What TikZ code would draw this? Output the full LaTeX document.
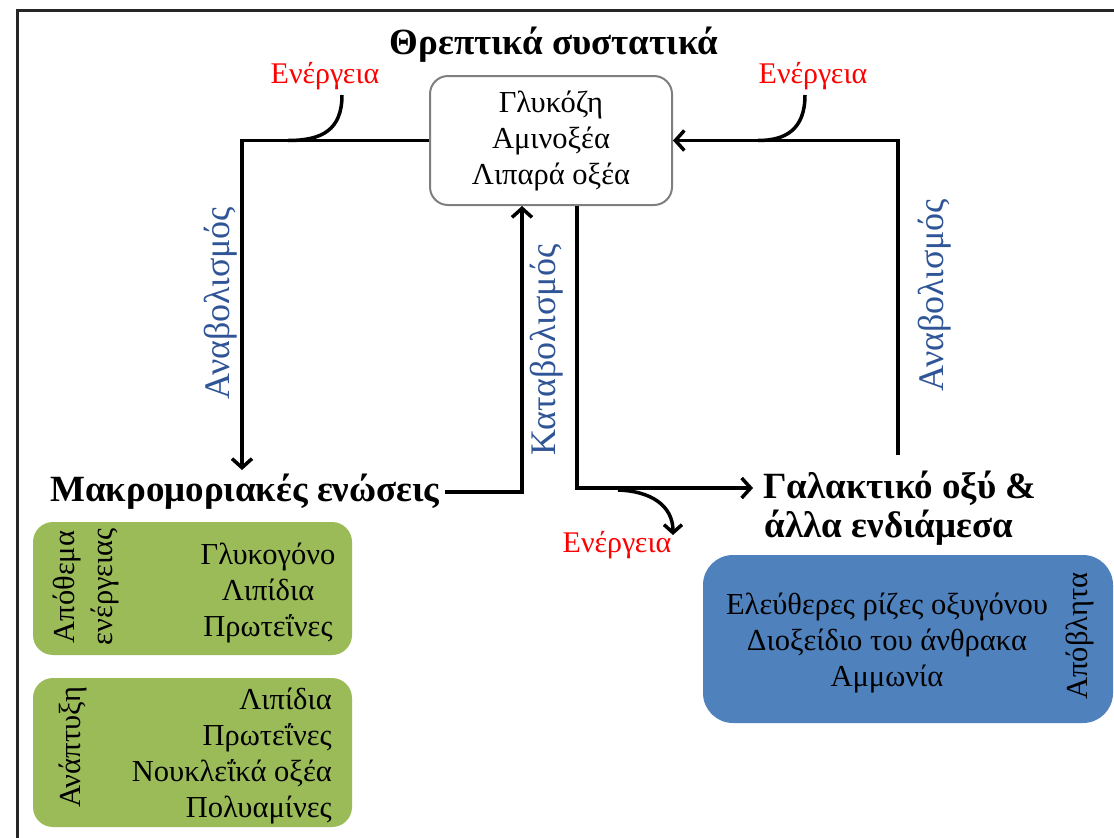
\documentclass[tikz,border=0pt]{standalone}
\usepackage{fontspec}
\setmainfont{Liberation Serif}
\usetikzlibrary{arrows.meta}
\definecolor{anablue}{RGB}{47,85,151}
\definecolor{boxgreen}{RGB}{155,187,89}
\definecolor{boxblue}{RGB}{79,129,189}
\definecolor{boxgray}{RGB}{127,127,127}
\tikzset{
 txt/.style={font=\fontsize{30.5}{36}\selectfont, inner sep=0pt, align=center},
 head/.style={font=\fontsize{37}{42}\selectfont\bfseries, inner sep=0pt, align=center},
 energy/.style={font=\fontsize{30}{34}\selectfont, text=red, inner sep=0pt},
 proc/.style={font=\fontsize{36}{40}\selectfont, text=anablue, rotate=90, inner sep=0pt},
 flow/.style={line width=3.5pt, -{Straight Barb[length=9pt,width=20pt]}},
 eline/.style={line width=3.5pt},
 eflow/.style={line width=3.5pt, -{Straight Barb[length=8pt,width=18pt]}},
}
\begin{document}
\begin{tikzpicture}[x=1pt,y=-1pt]
\useasboundingbox (0,0) rectangle (1114,838);
\clip (0,0) rectangle (1114,838);
\draw[line width=3pt, black!85] (17,850) -- (17,10) -- (1130,10);

% central box and title
\node[head] (title) at (554,45) {Θρεπτικά συστατικά};
\node[txt, draw=boxgray, line width=2pt, rounded corners=18pt,
      minimum width=242pt, minimum height=129pt] (nut) at (551,140.5)
      {Γλυκόζη\\Αμινοξέα\\Λιπαρά οξέα};

% energy labels
\node[energy] (eL) at (325,76) {Ενέργεια};
\node[energy] (eR) at (813,76) {Ενέργεια};
\node[energy] (eB) at (617,545) {Ενέργεια};

% main compound labels
\node[head, anchor=west] (macro) at (50,492) {Μακρομοριακές ενώσεις};
\node[head] (lac1) at (900,488) {Γαλακτικό οξύ \&};
\node[head] (lac2) at (889,528) {άλλα ενδιάμεσα};

% process labels
\node[proc] (anaL) at (221,303) {Αναβολισμός};
\node[proc] (anaR) at (935,295) {Αναβολισμός};
\node[proc] (cata) at (547,350) {Καταβολισμός};

% connectors
\coordinate (macroTop) at (242,470);
\coordinate (macroUp) at (522,490);
\coordinate (cataDown) at (577,490);
\coordinate (lacUp) at (898,455);
\draw[flow] (nut.west) -| (macroTop);
\draw[flow] ([xshift=5pt]macro.east) -| (nut.south -| macroUp);
\draw[flow] (nut.south -| cataDown) |- ([xshift=-10pt]lac1.west);
\draw[flow] (lacUp) |- (nut.east);

% energy curves
\coordinate (eLs) at (342,95);
\coordinate (eLe) at (288,140.5);
\coordinate (eRs) at (805,95);
\coordinate (eRe) at (758,140.5);
\coordinate (eBs) at (618,490);
\coordinate (eBe) at (673,535);
\draw[eline] (eLs) .. controls (342,130) and (322,140.5) .. (eLe);
\draw[eline] (eRs) .. controls (805,130) and (785,140.5) .. (eRe);
\draw[eflow] (eBs) .. controls (650,491) and (673,505) .. (eBe);

% green boxes
\node[fill=boxgreen, rounded corners=20pt, minimum width=319pt,
      minimum height=133pt, inner sep=0pt] (store) at (192.5,588.5) {};
\node[txt] (storeList) at (268,593) {Γλυκογόνο\\Λιπίδια\\Πρωτεΐνες};
\node[txt, align=center, rotate=90, font=\fontsize{30.5}{38}\selectfont] (storeLab) at (86,587) {Απόθεμα\\ενέργειας};

\node[fill=boxgreen, rounded corners=20pt, minimum width=319pt,
      minimum height=149pt, inner sep=0pt] (grow) at (192.5,752.5) {};
\node[txt, align=right, anchor=east] (growList) at (332,756)
      {Λιπίδια\\Πρωτεΐνες\\Νουκλεΐκά οξέα\\Πολυαμίνες};
\node[txt, rotate=90] (growLab) at (73,747) {Ανάπτυξη};

% blue box
\node[fill=boxblue, rounded corners=30pt, minimum width=410pt,
      minimum height=168pt, inner sep=0pt] (waste) at (908,639) {};
\node[txt] (wasteList) at (887,643)
      {Ελεύθερες ρίζες οξυγόνου\\Διοξείδιο του άνθρακα\\Αμμωνία};
\node[txt, rotate=90] (wasteLab) at (1080,636) {Απόβλητα};
\end{tikzpicture}
\end{document}
